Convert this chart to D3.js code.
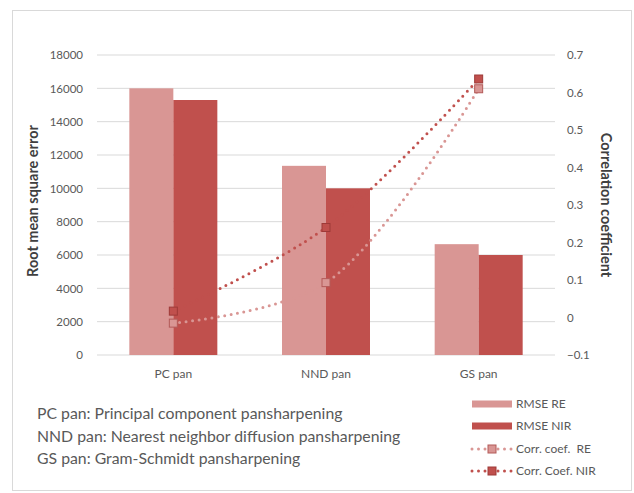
<!DOCTYPE html>
<html><head><meta charset="utf-8">
<script src="https://cdn.jsdelivr.net/npm/d3@7"></script>
<style>body{margin:0;background:#fff}svg{display:block}</style>
</head><body>
<svg id="c" width="634" height="493"></svg>
<script>
const categories = ["PC pan", "NND pan", "GS pan"];
const rmseRE = [16000, 11350, 6650];
const rmseNIR = [15300, 10000, 6000];
const corrRE = [-0.015, 0.093, 0.61];
const corrNIR = [0.017, 0.24, 0.636];
const leftTicks = [0, 2000, 4000, 6000, 8000, 10000, 12000, 14000, 16000, 18000];
const rightTicks = [-0.1, 0, 0.1, 0.2, 0.3, 0.4, 0.5, 0.6, 0.7];
const notes = ["PC pan: Principal component pansharpening",
  "NND pan: Nearest neighbor diffusion pansharpening",
  "GS pan: Gram-Schmidt pansharpening"];
const legendItems = ["RMSE RE", "RMSE NIR", "Corr. coef.  RE", "Corr. Coef. NIR"];

const cRE = "#D99694", cNIR = "#C0504D";
const mRE = "#B35A58", mNIR = "#9E3A38";
const font = "Lato, 'Open Sans', sans-serif";

const svg = d3.select("#c");
svg.append("rect").attr("x", 12.5).attr("y", 10.5).attr("width", 619).attr("height", 480)
  .attr("fill", "#fff").attr("stroke", "#d9d9d9");

const L = 97, R = 555, T = 55, B = 355;
const x = d3.scaleBand().domain(categories).range([L, R]);
const yL = d3.scaleLinear().domain([0, 18000]).range([B, T]);
const yR = d3.scaleLinear().domain([-0.1, 0.7]).range([B, T]);

// gridlines
svg.append("g").selectAll("line").data(leftTicks).join("line")
  .attr("x1", L).attr("x2", R).attr("y1", d => yL(d)).attr("y2", d => yL(d))
  .attr("stroke", "#d9d9d9").attr("stroke-width", 1);

// left axis
const gl = svg.append("g").attr("transform", `translate(${L - 14},0)`)
  .call(d3.axisLeft(yL).tickValues(leftTicks).tickSize(0).tickPadding(0).tickFormat(d3.format("d")));
gl.select(".domain").remove();
gl.selectAll("text").attr("fill", "#595959").style("font", `11.5px ${font}`);

// right axis
const gr = svg.append("g").attr("transform", `translate(${R + 12},0)`)
  .call(d3.axisRight(yR).tickValues(rightTicks).tickSize(0).tickPadding(0).tickFormat(d => d3.format("")(+d.toFixed(1))));
gr.select(".domain").remove();
gr.selectAll("text").attr("fill", "#595959").style("font", `11.5px ${font}`);

// bottom axis labels
const gb = svg.append("g").attr("transform", `translate(0,${B + 14})`)
  .call(d3.axisBottom(x).tickSize(0).tickPadding(0));
gb.select(".domain").remove();
gb.selectAll("text").attr("fill", "#595959").style("font", `12px ${font}`);

// axis titles
svg.append("text").attr("transform", `translate(38,201) rotate(-90)`).attr("text-anchor", "middle")
  .attr("fill", "#404040").style("font", `bold 14.5px ${font}`).text("Root mean square error");
svg.append("text").attr("transform", `translate(601,205) rotate(90)`).attr("text-anchor", "middle")
  .attr("fill", "#404040").style("font", `bold 14.5px ${font}`).text("Correlation coefficient");

// bars
const bw = 44;
const bars = svg.append("g");
bars.selectAll(".re").data(categories).join("rect")
  .attr("x", d => x(d) + x.bandwidth() / 2 - bw).attr("width", bw)
  .attr("y", (d, i) => yL(rmseRE[i])).attr("height", (d, i) => B - yL(rmseRE[i]))
  .attr("fill", cRE);
bars.selectAll(".nir").data(categories).join("rect")
  .attr("x", d => x(d) + x.bandwidth() / 2).attr("width", bw)
  .attr("y", (d, i) => yL(rmseNIR[i])).attr("height", (d, i) => B - yL(rmseNIR[i]))
  .attr("fill", cNIR);

// lines
const line = d3.line().x((d, i) => x(categories[i]) + x.bandwidth() / 2).y(d => yR(d))
  .curve(d3.curveCatmullRom.alpha(0.5));
function series(vals, col, mcol) {
  svg.append("path").attr("d", line(vals)).attr("fill", "none").attr("stroke", col)
    .attr("stroke-width", 3).attr("stroke-linecap", "round").attr("stroke-dasharray", "0 6.5");
  svg.append("g").selectAll("rect").data(vals).join("rect")
    .attr("x", (d, i) => x(categories[i]) + x.bandwidth() / 2 - 4)
    .attr("y", d => yR(d) - 4).attr("width", 8).attr("height", 8)
    .attr("fill", col).attr("stroke", mcol).attr("stroke-width", 1);
}
series(corrRE, cRE, mRE);
series(corrNIR, cNIR, mNIR);

// notes
svg.append("g").selectAll("text").data(notes).join("text")
  .attr("x", 37).attr("y", (d, i) => 419 + i * 22.5)
  .attr("fill", "#595959").style("font", `15.8px ${font}`).text(d => d);

// legend
const ly = [404, 426, 449, 471];
const lg = svg.append("g");
[cRE, cNIR].forEach((c, i) => {
  lg.append("rect").attr("x", 472).attr("y", ly[i] - 3.5).attr("width", 40).attr("height", 7).attr("fill", c);
});
[[cRE, mRE], [cNIR, mNIR]].forEach(([c, m], j) => {
  const yy = ly[j + 2];
  lg.append("line").attr("x1", 472).attr("x2", 512).attr("y1", yy).attr("y2", yy)
    .attr("stroke", c).attr("stroke-width", 3).attr("stroke-linecap", "round").attr("stroke-dasharray", "0 6.5");
  lg.append("rect").attr("x", 488).attr("y", yy - 4).attr("width", 8).attr("height", 8)
    .attr("fill", c).attr("stroke", m);
});
lg.selectAll("text").data(legendItems).join("text")
  .attr("x", 516).attr("y", (d, i) => ly[i]).attr("dy", "0.35em")
  .attr("fill", "#595959").style("font", `12px ${font}`).style("white-space", "pre").text(d => d);
</script>
</body></html>
